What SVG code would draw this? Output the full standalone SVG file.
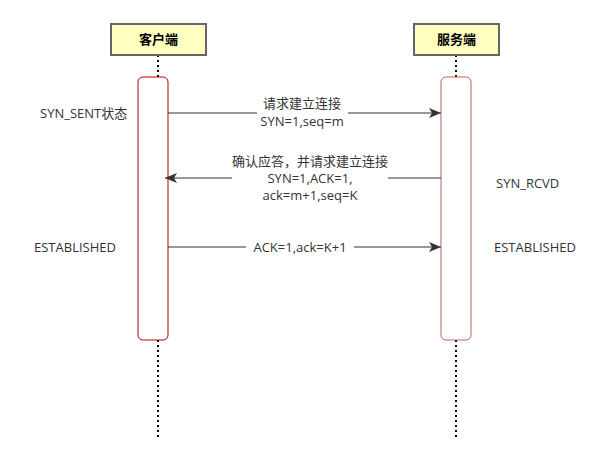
<svg xmlns="http://www.w3.org/2000/svg" width="610" height="465" viewBox="0 0 610 465">
<style>
text{font-family:"Open Sans","Noto Sans CJK SC",sans-serif;font-size:13px;fill:#333;}
.hdr{fill:#ffffc0;stroke:#666;stroke-width:2;}
.hdrt{font-weight:bold;fill:#000;text-anchor:middle;}
.life{stroke:#000;stroke-width:2;stroke-dasharray:2 3;fill:none;}
.act{fill:#fff;stroke-width:1;}
.msg{stroke:#333;stroke-width:1;fill:none;}
.lbl{text-anchor:middle;}
</style>
<defs>
<marker id="ah" markerWidth="12" markerHeight="10" refX="12" refY="5" orient="auto" markerUnits="userSpaceOnUse">
<path d="M0,0 L12,5 L0,10 L3,5 Z" fill="#333"/>
</marker>
</defs>
<g id="client">
<line class="life" x1="158" y1="55" x2="158" y2="77"/>
<line class="life" x1="158" y1="340" x2="158" y2="440"/>
<rect class="hdr" x="111" y="24" width="95" height="31"/>
<text class="hdrt" x="158.5" y="44">客户端</text>
<rect class="act" x="138" y="77" width="30" height="263" rx="5" stroke="#b20000"/>
</g>
<g id="server">
<line class="life" x1="456" y1="55" x2="456" y2="77"/>
<line class="life" x1="456" y1="340" x2="456" y2="440"/>
<rect class="hdr" x="414" y="24" width="85" height="31"/>
<text class="hdrt" x="456.5" y="44">服务端</text>
<rect class="act" x="441" y="77" width="30" height="263" rx="5" stroke="#c85a5a"/>
</g>
<g id="connectors">
<line class="msg" x1="168" y1="113" x2="441" y2="113" marker-end="url(#ah)"/>
<rect x="257" y="96" width="91" height="32" fill="#fff"/>
<text class="lbl" x="302" y="108">请求建立连接</text>
<text class="lbl" x="302" y="126">SYN=1,seq=m</text>
<line class="msg" x1="441" y1="178" x2="165" y2="178" marker-end="url(#ah)"/>
<rect x="232" y="153" width="156" height="50" fill="#fff"/>
<text class="lbl" x="310" y="166">确认应答，并请求建立连接</text>
<text class="lbl" x="310" y="183">SYN=1,ACK=1,</text>
<text class="lbl" x="310" y="200">ack=m+1,seq=K</text>
<line class="msg" x1="168" y1="247" x2="441" y2="247" marker-end="url(#ah)"/>
<rect x="246" y="239" width="108" height="16" fill="#fff"/>
<text class="lbl" x="300" y="251.5">ACK=1,ack=K+1</text>
</g>
<g id="states">
<text x="40" y="117.5">SYN_SENT状态</text>
<text x="34" y="251.5">ESTABLISHED</text>
<text x="496" y="187.5">SYN_RCVD</text>
<text x="494" y="251.5">ESTABLISHED</text>
</g>
</svg>
